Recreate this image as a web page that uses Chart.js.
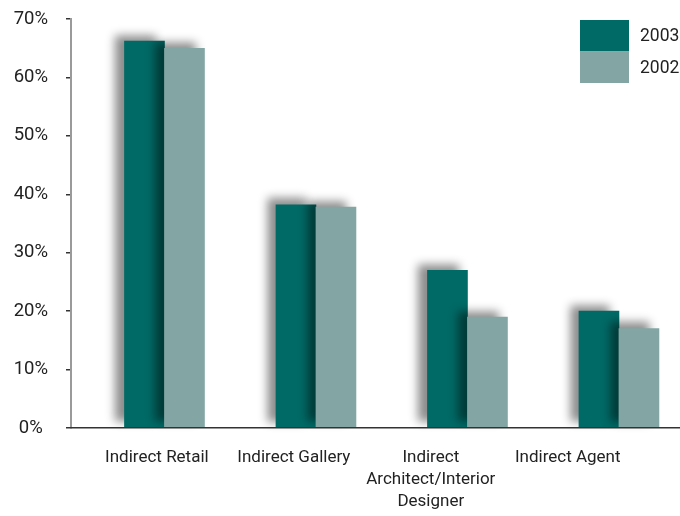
<!DOCTYPE html>
<html>
<head>
<meta charset="utf-8">
<title>Indirect channels 2003 vs 2002</title>
<script src="https://cdn.jsdelivr.net/npm/chart.js@4.4.1/dist/chart.umd.min.js"></script>
<style>
  html, body { margin: 0; padding: 0; background: #fff; }
  canvas { display: block; }
</style>
</head>
<body>
<canvas id="myChart" width="680" height="516"></canvas>
<script>
const categories = ['Indirect Retail', 'Indirect Gallery', ['Indirect', 'Architect/Interior', 'Designer'], 'Indirect Agent'];
const years = ['2003', '2002'];
const values2003 = [66.2, 38.2, 27, 20];
const values2002 = [65, 37.8, 19, 17];
const yTicks = [0, 10, 20, 30, 40, 50, 60, 70];

const FONT = "Roboto, 'DejaVu Sans Condensed', sans-serif";
const colors = ['#006a66', '#83a6a4'];

// draw the bars in dataset order (2003 first) so the 2002 shadow falls on the 2003 bar
const barShadow = {
    id: 'barShadow',
    beforeDatasetsDraw(chart) {
        const ctx = chart.ctx;
        ctx.save();
        ctx.shadowColor = 'rgba(0, 0, 0, 0.45)';
        ctx.shadowBlur = 9;
        ctx.shadowOffsetX = -9;
        ctx.shadowOffsetY = -6;
        chart.data.datasets.forEach((ds, i) => {
            chart.getDatasetMeta(i).controller.draw();
        });
        ctx.restore();
        return false;
    }
};

// stacked colour blocks with the year beside them, top right
const boxLegend = {
    id: 'boxLegend',
    afterDraw(chart) {
        const ctx = chart.ctx;
        ctx.save();
        ctx.font = '17.5px ' + FONT;
        ctx.textBaseline = 'middle';
        ctx.textAlign = 'left';
        chart.data.datasets.forEach((ds, i) => {
            const top = 20 + i * 31.5;
            ctx.fillStyle = ds.backgroundColor;
            ctx.fillRect(580, top, 49, 31.5);
            ctx.fillStyle = '#222';
            ctx.fillText(ds.label, 640, top + 17);
        });
        ctx.restore();
    }
};

const toPoints = values => values.map((v, i) => ({ x: i, y: v }));

const ctx = document.getElementById('myChart').getContext('2d');
const chart = new Chart(ctx, {
    type: 'bar',
    data: {
        datasets: [
            { label: years[0], data: toPoints(values2003), backgroundColor: colors[0], barThickness: 40 },
            { label: years[1], data: toPoints(values2002), backgroundColor: colors[1], barThickness: 40 }
        ]
    },
    options: {
        responsive: false,
        animation: false,
        layout: { padding: { top: 19, right: 0, left: 0, bottom: 0 } },
        plugins: {
            legend: { display: false },
            tooltip: { enabled: false }
        },
        scales: {
            x: {
                type: 'linear',
                offset: false,
                min: -0.617,
                max: 3.403,
                grid: { display: false, drawTicks: false },
                border: { display: true, color: '#333', width: 1.5, z: 1 },
                afterBuildTicks: scale => {
                    // labels sit a little left of each bar pair
                    scale.ticks = categories.map((c, i) => ({ value: i * 0.904 - 0.05 }));
                },
                afterFit: scale => { scale.height = 88; },
                ticks: {
                    autoSkip: false,
                    maxRotation: 0,
                    padding: 19,
                    color: '#222',
                    font: { family: FONT, size: 17, lineHeight: 1.28 },
                    callback: (v, i) => categories[i]
                }
            },
            y: {
                min: 0,
                max: 70,
                afterBuildTicks: scale => {
                    scale.ticks = yTicks.map(v => ({ value: v }));
                },
                afterFit: scale => {
                    scale.width = 71;
                    // tick padding would otherwise push the plot top down
                    scale.paddingTop = 0;
                    scale.paddingBottom = 0;
                },
                grid: { drawOnChartArea: false, tickLength: 5, color: '#333', lineWidth: 1.5 },
                border: { color: '#9a9a9a', width: 2 },
                ticks: {
                    padding: 18,
                    crossAlign: 'center',
                    color: '#222',
                    font: { family: FONT, size: 18.5 },
                    callback: v => v + '%'
                }
            }
        }
    },
    plugins: [barShadow, boxLegend]
});
</script>
</body>
</html>
